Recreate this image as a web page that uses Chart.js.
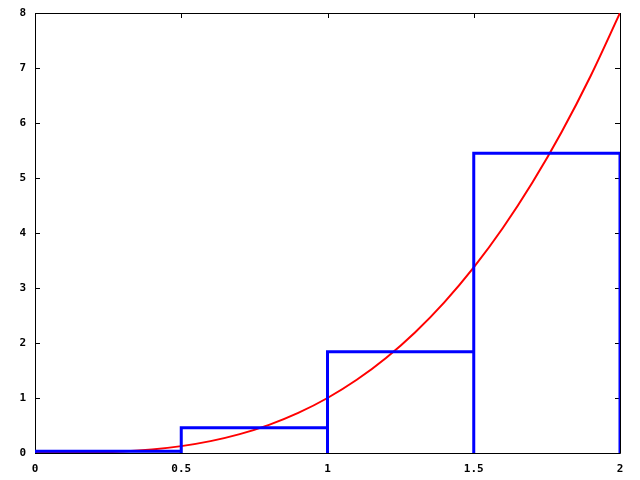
<!DOCTYPE html>
<html>
<head>
<meta charset="utf-8">
<script src="https://cdn.jsdelivr.net/npm/chart.js@4/dist/chart.umd.min.js"></script>
<style>
  html, body { margin: 0; padding: 0; background: #fff; }
  #wrap { width: 640px; height: 480px; }
</style>
</head>
<body>
<div id="wrap"><canvas id="c" width="640" height="480"></canvas></div>
<script>
// Curve y = f(x)
const curveX = [0, 0.1, 0.2, 0.3, 0.4, 0.5, 0.6, 0.7, 0.8, 0.9, 1.0, 1.1, 1.2, 1.3, 1.4, 1.5, 1.6, 1.7, 1.8, 1.9, 2.0];
const curveY = [0, 0.001, 0.008, 0.027, 0.064, 0.125, 0.216, 0.343, 0.512, 0.729, 1.0, 1.331, 1.728, 2.197, 2.744, 3.375, 4.096, 4.913, 5.832, 6.859, 8.0];
// Rectangles (bin edges and heights)
const binEdges = [0, 0.5, 1, 1.5, 2];
const binHeights = [0.03, 0.46, 1.84, 5.45];
// Tick labels
const xTicks = [0, 0.5, 1, 1.5, 2];
const yTicks = [0, 1, 2, 3, 4, 5, 6, 7, 8];

const curvePts = curveX.map((x, i) => ({x: x, y: curveY[i]}));
const boxPts = [{x: binEdges[0], y: 0}];
for (let i = 0; i < binHeights.length; i++) {
  boxPts.push({x: binEdges[i], y: binHeights[i]});
  boxPts.push({x: binEdges[i + 1], y: binHeights[i]});
  boxPts.push({x: binEdges[i + 1], y: 0});
}

const FONT = {family: "'DejaVu Sans Mono', 'Liberation Mono', monospace", size: 11, weight: 'bold'};

const framePlugin = {
  id: 'frame',
  beforeDatasetsDraw(chart) {
    const {ctx, chartArea: a, scales} = chart;
    ctx.save();
    ctx.strokeStyle = '#000';
    ctx.lineWidth = 1;
    ctx.beginPath();
    ctx.rect(Math.round(a.left) + 0.5, Math.round(a.top) + 0.5, Math.round(a.right - a.left), Math.round(a.bottom - a.top));
    const L = 5;
    yTicks.forEach(v => {
      const y = Math.round(scales.y.getPixelForValue(v)) + 0.5;
      ctx.moveTo(a.left, y); ctx.lineTo(a.left + L, y);
      ctx.moveTo(a.right, y); ctx.lineTo(a.right - L, y);
    });
    xTicks.forEach(v => {
      const x = Math.round(scales.x.getPixelForValue(v)) + 0.5;
      ctx.moveTo(x, a.bottom); ctx.lineTo(x, a.bottom - L);
      ctx.moveTo(x, a.top); ctx.lineTo(x, a.top + L);
    });
    ctx.stroke();
    ctx.restore();
  }
};

new Chart(document.getElementById('c'), {
  type: 'line',
  data: {
    datasets: [
      {
        data: boxPts,
        borderColor: '#0000ff',
        borderWidth: 3,
        pointRadius: 0,
        tension: 0,
        fill: false,
        order: 0
      },
      {
        data: curvePts,
        borderColor: '#ff0000',
        borderWidth: 2,
        pointRadius: 0,
        cubicInterpolationMode: 'monotone',
        fill: false,
        order: 1
      }
    ]
  },
  options: {
    responsive: false,
    animation: false,
    events: [],
    layout: { padding: { top: 13, right: 20, left: 0, bottom: 0 } },
    plugins: { legend: { display: false }, tooltip: { enabled: false } },
    scales: {
      x: {
        type: 'linear', min: 0, max: 2,
        grid: { display: false, drawTicks: false },
        border: { display: false },
        afterBuildTicks: s => { s.ticks = xTicks.map(v => ({value: v})); },
        afterFit: s => { s.height = 27; s.paddingLeft = 0; s.paddingRight = 0; },
        ticks: {
          color: '#000', font: FONT, padding: 10, maxRotation: 0,
          callback: v => String(v)
        }
      },
      y: {
        type: 'linear', min: 0, max: 8,
        grid: { display: false, drawTicks: false },
        border: { display: false },
        afterBuildTicks: s => { s.ticks = yTicks.map(v => ({value: v})); },
        afterFit: s => { s.width = 35; s.paddingTop = 0; s.paddingBottom = 0; },
        ticks: {
          color: '#000', font: FONT, padding: 9,
          callback: v => String(v)
        }
      }
    }
  },
  plugins: [framePlugin]
});
</script>
</body>
</html>
